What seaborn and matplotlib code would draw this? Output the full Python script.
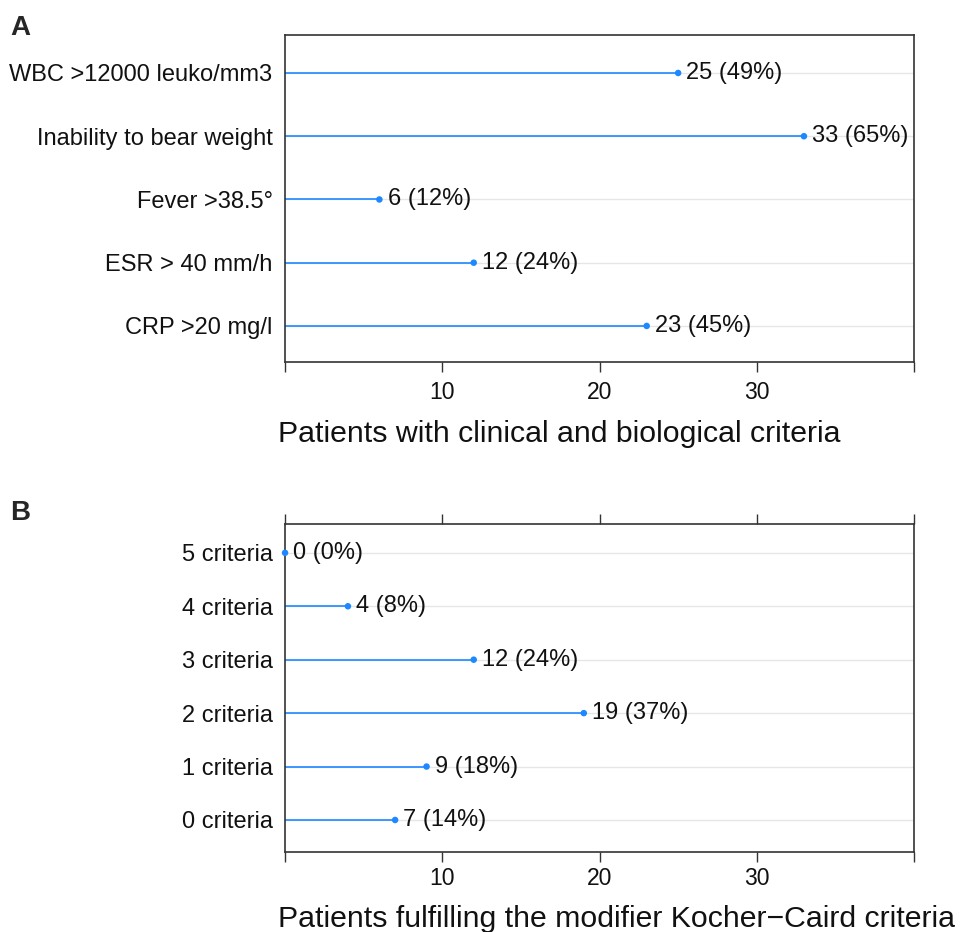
import pandas as pd
import seaborn as sns
import matplotlib.pyplot as plt

sns.set_theme(style="white")
plt.rcParams['font.family'] = ['Liberation Sans', 'DejaVu Sans']

# data
criteria_a = ['WBC >12000 leuko/mm3', 'Inability to bear weight', 'Fever >38.5°',
              'ESR > 40 mm/h', 'CRP >20 mg/l']
counts_a = [25, 33, 6, 12, 23]
pct_a = [49, 65, 12, 24, 45]

criteria_b = ['5 criteria', '4 criteria', '3 criteria', '2 criteria', '1 criteria', '0 criteria']
counts_b = [0, 4, 12, 19, 9, 7]
pct_b = [0, 8, 24, 37, 18, 14]

xticks = [0, 10, 20, 30, 40]
xticklabels = ['', '10', '20', '30', '']

BLUE = '#1E88FF'
fig = plt.figure(figsize=(9.61, 9.32), dpi=100)
ax_a = fig.add_axes([0.2966, 0.6116, 0.6545, 0.3508])
ax_b = fig.add_axes([0.2966, 0.0858, 0.6545, 0.3520])


def dotplot(ax, cats, counts, pcts, xlabel, top_ticks, pad_top, pad_bot, tick_pad, label_y):
    df = pd.DataFrame({'cat': cats, 'n': counts, 'pct': pcts})
    ypos = list(range(len(cats)))
    for y in ypos:
        ax.axhline(y, color='#e6e6e6', lw=1, zorder=0)
    ax.hlines(ypos, 0, df['n'], color=BLUE, lw=1.2, zorder=2)
    sns.scatterplot(data=df, x='n', y='cat', ax=ax, color=BLUE, s=22,
                    edgecolor='none', zorder=3, clip_on=False)
    for y, n, p in zip(ypos, counts, pcts):
        ax.annotate(f'{n} ({p}%)', (n, y), xytext=(6, 0), textcoords='offset points',
                    va='center', ha='left', fontsize=17, color='#111111')
    ax.set_xlim(0, 40)
    ax.set_ylim(len(cats) - 1 + pad_bot, -pad_top)
    ax.set_xticks(xticks)
    ax.set_xticklabels(xticklabels)
    ax.set_yticks(ypos)
    ax.set_yticklabels(cats)
    ax.set_ylabel('')
    ax.set_xlabel(xlabel, fontsize=21.8, color='#111111', loc='left')
    ax.xaxis.label.set_va('baseline')
    ax.xaxis.set_label_coords(-0.011, label_y)
    ax.tick_params(axis='x', direction='out', length=7, width=1, color='#333333',
                   labelsize=16.5, pad=tick_pad, bottom=True, top=top_ticks,
                   labelcolor='#111111')
    ax.tick_params(axis='y', length=0, pad=9, labelsize=17, labelcolor='#111111')
    for s in ax.spines.values():
        s.set_color('#333333')
        s.set_linewidth(1.2)


dotplot(ax_a, criteria_a, counts_a, pct_a,
        'Patients with clinical and biological criteria', False, 0.6, 0.57, 7, -80 / 327)
dotplot(ax_b, criteria_b, counts_b, pct_b,
        'Patients fulfilling the modifier Kocher\u2212Caird criteria', True, 0.54, 0.6, 4, -75 / 328)

fig.text(0.011, 0.9624, 'A', fontsize=20, fontweight='bold', va='baseline')
fig.text(0.011, 0.4421, 'B', fontsize=20, fontweight='bold', va='baseline')

plt.savefig('out.png', dpi=100)
